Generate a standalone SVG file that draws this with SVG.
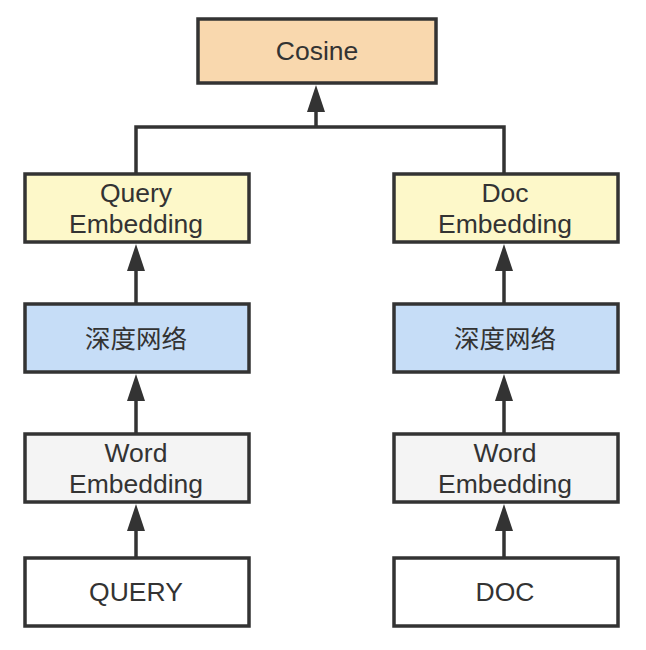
<svg xmlns="http://www.w3.org/2000/svg" width="646" height="650" viewBox="0 0 646 650">
<defs>
<style>
.box{stroke:#333;stroke-width:3.5}
.t{font-family:"Liberation Sans","Noto Sans CJK SC",Arial,sans-serif;font-size:26.5px;fill:#333;text-anchor:middle}
.c{font-family:"Noto Sans CJK SC","Liberation Sans",sans-serif;font-size:25.5px;fill:#333;text-anchor:middle}
.ln{fill:none;stroke:#333;stroke-width:3.5}
</style>
<marker id="ah" markerUnits="userSpaceOnUse" markerWidth="28" markerHeight="20" viewBox="0 0 28 20" refX="0" refY="10" orient="auto">
<path d="M0 1 L27 10 L0 19 Z" fill="#333"/>
</marker>
</defs>
<rect width="646" height="650" fill="#fff"/>
<g id="connectors">
<path class="ln" d="M136 175 V127 H504 V175"/>
<path class="ln" d="M316 128 V112" marker-end="url(#ah)"/>
<path class="ln" d="M136 303 V271" marker-end="url(#ah)"/>
<path class="ln" d="M136 433 V401" marker-end="url(#ah)"/>
<path class="ln" d="M136 557 V531" marker-end="url(#ah)"/>
<path class="ln" d="M504 303 V271" marker-end="url(#ah)"/>
<path class="ln" d="M504 433 V401" marker-end="url(#ah)"/>
<path class="ln" d="M504 557 V531" marker-end="url(#ah)"/>
</g>
<g id="cosine">
<rect class="box" x="198" y="19" width="238" height="64" fill="#f9d8ae"/>
<text class="t" x="317" y="60">Cosine</text>
</g>
<g id="query-embedding">
<rect class="box" x="25" y="174" width="224" height="68" fill="#fdf8c9"/>
<text class="t" x="136" y="202">Query</text>
<text class="t" x="136" y="233">Embedding</text>
</g>
<g id="doc-embedding">
<rect class="box" x="394" y="174" width="224" height="68" fill="#fdf8c9"/>
<text class="t" x="505" y="202">Doc</text>
<text class="t" x="505" y="233">Embedding</text>
</g>
<g id="query-dnn">
<rect class="box" x="25" y="304" width="224" height="68" fill="#c6ddf7"/>
<text class="c" x="136" y="348">深度网络</text>
</g>
<g id="doc-dnn">
<rect class="box" x="394" y="304" width="224" height="68" fill="#c6ddf7"/>
<text class="c" x="505" y="348">深度网络</text>
</g>
<g id="query-word-embedding">
<rect class="box" x="25" y="434" width="224" height="68" fill="#f4f4f4"/>
<text class="t" x="136" y="462">Word</text>
<text class="t" x="136" y="493">Embedding</text>
</g>
<g id="doc-word-embedding">
<rect class="box" x="394" y="434" width="224" height="68" fill="#f4f4f4"/>
<text class="t" x="505" y="462">Word</text>
<text class="t" x="505" y="493">Embedding</text>
</g>
<g id="query">
<rect class="box" x="25" y="558" width="224" height="68" fill="#fff"/>
<text class="t" x="136" y="601">QUERY</text>
</g>
<g id="doc">
<rect class="box" x="394" y="558" width="224" height="68" fill="#fff"/>
<text class="t" x="505" y="601">DOC</text>
</g>
</svg>
